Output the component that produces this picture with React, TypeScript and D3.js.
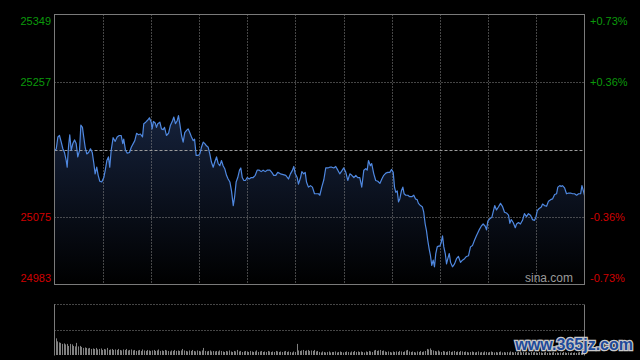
import React, { useRef, useEffect } from 'react';
import * as d3 from 'd3';

// intraday trace: [minutes since open, index level]
const priceTicks: [number, number][] = [
  [0, 25164], [1.1, 25167], [2.1, 25183], [3.1, 25185], [4.2, 25176], [5.2, 25167], [6.2, 25162], [7.3, 25151], [7.9, 25142], [8.7, 25169],
  [9.5, 25186], [10.4, 25165], [11.4, 25174], [12.5, 25179], [13.5, 25174], [14.5, 25156], [15.6, 25165], [16.4, 25199], [17.4, 25196], [18.2, 25183],
  [19.1, 25169], [20.1, 25160], [21.2, 25162], [22.4, 25167], [23.5, 25162], [24.5, 25147], [25.3, 25133], [26.3, 25142], [27.2, 25131], [28.2, 25123],
  [29.4, 25122], [30.7, 25128], [31.6, 25138], [32.6, 25151], [33.6, 25156], [34.4, 25142], [35.3, 25165], [36.5, 25182], [37.8, 25177], [39.0, 25183],
  [40.3, 25185], [41.5, 25185], [42.5, 25174], [43.1, 25180], [44.2, 25165], [45.3, 25161], [46.7, 25162], [47.8, 25169], [49.0, 25174], [50.0, 25178],
  [51.1, 25188], [52.3, 25186], [53.5, 25187], [54.8, 25183], [55.6, 25201], [56.8, 25203], [58.1, 25206], [59.1, 25209], [60.2, 25203], [60.8, 25194],
  [61.6, 25204], [62.7, 25202], [63.5, 25196], [64.3, 25201], [65.6, 25203], [66.6, 25194], [67.7, 25193], [68.5, 25196],
  [69.7, 25185], [71.0, 25188], [72.2, 25199], [73.5, 25205], [74.3, 25210], [75.3, 25201], [76.4, 25205], [77.2, 25212], [78.0, 25201], [79.1, 25185],
  [80.1, 25176], [81.1, 25189], [82.2, 25192], [83.2, 25194], [84.2, 25189], [85.3, 25183], [86.4, 25178], [87.2, 25180], [88.2, 25158], [89.5, 25158],
  [90.5, 25160], [91.5, 25169], [92.6, 25176], [93.6, 25174], [94.6, 25171], [95.7, 25169], [96.7, 25160], [97.7, 25149], [98.8, 25142], [99.8, 25149],
  [100.9, 25156], [101.9, 25147], [102.9, 25144], [104.0, 25151], [105.0, 25144], [106.0, 25140], [107.1, 25131], [108.1, 25126], [109.2, 25122], [110.2, 25110],
  [111.3, 25090], [112.1, 25101], [113.1, 25122], [114.1, 25128], [115.2, 25138], [116.0, 25141], [116.9, 25128], [117.9, 25124], [118.9, 25124], [120.0, 25128],
  [121.2, 25126], [122.5, 25128], [123.7, 25128], [125.0, 25131], [126.2, 25138], [127.5, 25138], [128.7, 25136], [129.9, 25138], [131.2, 25136], [132.4, 25138],
  [134.1, 25138], [135.3, 25135], [136.5, 25131], [137.8, 25131], [139.0, 25135], [140.7, 25133], [142.4, 25132], [144.0, 25131], [145.7, 25126], [146.9, 25133],
  [148.2, 25138], [149.0, 25143], [149.9, 25133], [151.1, 25128], [151.9, 25119], [153.2, 25128], [154.0, 25136], [155.2, 25133], [156.1, 25135], [156.9, 25122],
  [158.1, 25115], [159.4, 25117], [160.6, 25115], [161.9, 25106], [163.1, 25106], [164.4, 25106], [165.2, 25104], [166.4, 25115], [167.7, 25125], [168.9, 25141],
  [170.2, 25141], [171.4, 25142], [172.7, 25142], [173.9, 25141], [175.1, 25143], [176.4, 25138], [177.6, 25133], [178.9, 25137], [180.1, 25141], [181.4, 25135],
  [182.6, 25124], [183.9, 25133], [185.1, 25131], [186.4, 25128], [187.6, 25131], [188.8, 25128], [190.1, 25128], [191.3, 25115], [192.6, 25138], [193.8, 25140],
  [194.7, 25138], [195.5, 25151], [196.7, 25144], [197.5, 25147], [198.8, 25133], [200.0, 25124],
  [201.3, 25123], [202.6, 25120], [203.8, 25126], [205.0, 25131], [206.3, 25134], [207.5, 25135], [208.8, 25135], [209.8, 25139], [210.9, 25135], [211.7, 25115],
  [212.5, 25108], [213.4, 25110], [214.2, 25095], [215.0, 25099], [216.0, 25110], [216.9, 25115], [217.7, 25106], [218.7, 25104], [220.0, 25104], [221.2, 25102],
  [222.5, 25102], [223.7, 25104], [224.8, 25099], [225.8, 25098], [226.6, 25093], [227.9, 25090], [229.1, 25088], [229.9, 25081], [230.8, 25065], [231.6, 25056],
  [232.4, 25043], [233.3, 25031], [234.1, 25022], [234.9, 25009], [235.8, 25016], [236.6, 25007], [237.4, 25025], [238.3, 25034], [239.1, 25035], [239.9, 25035],
  [240.8, 25040], [241.6, 25049], [242.4, 25034], [243.3, 25025], [244.1, 25011], [244.9, 25018], [245.8, 25025], [246.6, 25013], [247.8, 25007], [249.1, 25011],
  [250.3, 25018], [251.5, 25021], [252.8, 25013], [254.0, 25016], [255.3, 25018], [256.5, 25021], [257.8, 25022], [259.0, 25034], [260.3, 25036], [261.5, 25043],
  [262.7, 25049], [264.4, 25057], [265.7, 25062], [266.9, 25065], [268.2, 25062], [269.0, 25057], [269.8, 25069], [271.0, 25072], [272.3, 25074], [273.1, 25081],
  [274.1, 25090], [275.2, 25084], [276.4, 25088], [277.7, 25093], [278.9, 25089], [280.2, 25081], [281.4, 25080], [282.7, 25077], [283.5, 25066], [284.4, 25071],
  [285.6, 25067], [286.9, 25060], [287.7, 25065], [288.9, 25067], [290.1, 25065], [291.4, 25070], [292.6, 25079], [293.9, 25075], [295.1, 25079], [296.4, 25077],
  [297.6, 25071], [298.9, 25070], [299.7, 25074], [300.6, 25083], [301.8, 25086], [303.1, 25088], [303.9, 25092], [305.1, 25090], [306.4, 25089], [307.6, 25096],
  [308.9, 25098], [310.1, 25099], [311.4, 25105], [312.6, 25106], [313.4, 25115], [314.6, 25117], [315.5, 25116], [316.3, 25117], [317.6, 25114], [318.8, 25106],
  [320.1, 25107], [321.3, 25107], [322.6, 25106], [323.8, 25106], [325.1, 25104], [326.3, 25106], [327.6, 25106], [328.4, 25117], [329.3, 25110], [330.0, 25104],
];

// per-minute volume, relative (opening auction = 100)
const volumes = [
  100, 33, 27, 25, 24, 22, 23, 21, 22, 18, 22, 21, 18, 17, 24, 17, 18, 16, 14, 15,
  14, 13, 14, 12, 13, 12, 14, 11, 12, 13, 10, 12, 11, 14, 10, 11, 12, 10, 11, 10,
  12, 10, 9, 11, 10, 12, 9, 10, 11, 9, 10, 8, 9, 10, 8, 11, 9, 8, 10, 9,
  8, 9, 10, 8, 9, 11, 8, 9, 8, 10, 9, 8, 7, 9, 8, 10, 8, 9, 8, 9,
  12, 9, 8, 7, 9, 8, 10, 8, 7, 9, 8, 7, 9, 14, 8, 7, 8, 9, 7, 8,
  7, 8, 7, 9, 8, 7, 6, 8, 7, 9, 7, 6, 8, 7, 10, 7, 8, 6, 7, 8,
  7, 6, 8, 7, 6, 7, 9, 6, 7, 8, 6, 7, 6, 8, 7, 6, 7, 6, 8, 7,
  6, 7, 6, 7, 8, 6, 7, 6, 5, 7, 6, 22, 9, 8, 9, 10, 8, 9, 10, 8,
  9, 8, 10, 7, 8, 6, 5, 7, 6, 5, 6, 7, 5, 6, 6, 7, 5, 6, 7, 6,
  5, 6, 7, 6, 5, 7, 6, 8, 6, 7, 6, 7, 6, 5, 7, 6, 8, 7, 6, 9,
  10, 8, 9, 10, 8, 9, 7, 6, 7, 6, 5, 7, 6, 7, 6, 8, 7, 6, 7, 9,
  10, 7, 6, 7, 6, 5, 7, 6, 8, 6, 7, 8, 12, 11, 13, 10, 9, 8, 7, 9,
  7, 6, 8, 7, 6, 7, 8, 6, 7, 8, 6, 7, 6, 8, 7, 6, 7, 6, 5, 6,
  7, 6, 5, 6, 7, 5, 6, 5, 7, 6, 5, 6, 7, 6, 5, 6, 5, 6, 7, 5,
  6, 5, 6, 5, 7, 6, 5, 6, 5, 6, 7, 5, 6, 5, 6, 5, 4, 6, 5, 6,
  5, 4, 6, 5, 4, 5, 6, 4, 5, 4, 5, 6, 4, 5, 4, 5, 4, 6, 5, 4,
  5, 4, 5, 4, 5, 4, 5, 6, 4, 5, 4,
];

const prevClose = 25166;
const priceLabels = [25349, 25257, 25075, 24983];
const pctLabels = ['+0.73%', '+0.36%', '-0.36%', '-0.73%'];
const halfHours = [30, 60, 90, 120, 150, 180, 210, 240, 270, 300];

const App = () => {
  const ref = useRef<SVGSVGElement>(null);

  useEffect(() => {
    const svg = d3.select(ref.current);
    svg.selectAll('*').remove();

    const left = 54.5, right = 584.5, top = 14.5, bottom = 284.5;
    const volTop = 304.5, volBottom = 355.5;
    const font = '"Liberation Sans", Arial, sans-serif';

    svg.append('rect').attr('width', 640).attr('height', 360).attr('fill', '#000');

    const x = d3.scaleLinear().domain([0, 330]).range([left, right]);
    const y = d3.scaleLinear().domain([24983, 25349]).range([bottom, top]);
    const yv = d3.scaleLinear().domain([0, 100]).range([volBottom - 0.5, volTop]);

    const defs = svg.append('defs');
    const grad = defs.append('linearGradient')
      .attr('id', 'areaFill')
      .attr('gradientUnits', 'userSpaceOnUse')
      .attr('x1', 0).attr('x2', 0)
      .attr('y1', y(d3.max(priceTicks, d => d[1]) as number))
      .attr('y2', bottom);
    grad.append('stop').attr('offset', '0%').attr('stop-color', '#15213a');
    grad.append('stop').attr('offset', '100%').attr('stop-color', '#000000');

    // area + line
    const area = d3.area<[number, number]>()
      .x(d => x(d[0]))
      .y0(bottom)
      .y1(d => y(d[1]));
    svg.append('path').datum(priceTicks).attr('d', area).attr('fill', 'url(#areaFill)');

    const grid = svg.append('g');
    halfHours.forEach(m => {
      const gx = Math.round(x(m)) + 0.5;
      grid.append('line').attr('x1', gx).attr('x2', gx).attr('y1', top).attr('y2', bottom)
        .attr('stroke', '#8a8a8a').attr('stroke-dasharray', '1,2');
      grid.append('line').attr('x1', gx).attr('x2', gx).attr('y1', volTop).attr('y2', volTop)
        .attr('stroke', 'none');
    });
    [25257, 25075].forEach(v => {
      const gy = Math.round(y(v)) + 0.5;
      grid.append('line').attr('x1', left).attr('x2', right).attr('y1', gy).attr('y2', gy)
        .attr('stroke', '#8a8a8a').attr('stroke-dasharray', '1,2');
    });
    const pc = Math.round(y(prevClose)) + 0.5;
    grid.append('line').attr('x1', left).attr('x2', right).attr('y1', pc).attr('y2', pc)
      .attr('stroke', '#9a9a9a').attr('stroke-dasharray', '3,2');

    const line = d3.line<[number, number]>()
      .x(d => x(d[0]))
      .y(d => y(d[1]));
    svg.append('path').datum(priceTicks).attr('d', line)
      .attr('fill', 'none').attr('stroke', '#4f88e0').attr('stroke-width', 1.2)
      .attr('stroke-linejoin', 'round');

    svg.append('rect')
      .attr('x', left).attr('y', top).attr('width', right - left).attr('height', bottom - top)
      .attr('fill', 'none').attr('stroke', '#7a7a7a');

    // axis labels
    priceLabels.forEach((v, i) => {
      const ty = i === 0 ? top + 10 : i === priceLabels.length - 1 ? bottom - 3 : y(v) + 4;
      const color = v > prevClose ? '#0b9a0b' : '#d00000';
      svg.append('text').attr('x', 51).attr('y', ty).attr('text-anchor', 'end')
        .attr('fill', color).style('font-family', font).style('font-size', '11px').text(v);
      svg.append('text').attr('x', 590).attr('y', ty).attr('text-anchor', 'start')
        .attr('fill', color).style('font-family', font).style('font-size', '11px').text(pctLabels[i]);
    });

    svg.append('text').attr('x', 573).attr('y', 282).attr('text-anchor', 'end')
      .attr('fill', '#9a9a9a').style('font-family', font).style('font-size', '12px').text('sina.com');

    // volume panel
    [volTop, Math.round((volTop + volBottom) / 2) + 0.5].forEach(gy => {
      svg.append('line').attr('x1', left).attr('x2', right).attr('y1', gy).attr('y2', gy)
        .attr('stroke', '#8a8a8a').attr('stroke-dasharray', '1,2');
    });
    svg.selectAll('.vol')
      .data(volumes)
      .enter()
      .append('rect')
      .attr('class', 'vol')
      .attr('x', (_, i) => Math.floor(x(i)))
      .attr('width', 1)
      .attr('y', d => yv(d))
      .attr('height', d => volBottom - 0.5 - yv(d))
      .attr('fill', '#808080');
    [left, right].forEach(bx => {
      svg.append('line').attr('x1', bx).attr('x2', bx).attr('y1', volTop).attr('y2', volBottom)
        .attr('stroke', '#7a7a7a');
    });

    svg.append('text').attr('x', 633).attr('y', 350).attr('text-anchor', 'end')
      .attr('fill', '#1e4a9a').attr('stroke', '#c8c8c8').attr('stroke-width', 2.5)
      .style('paint-order', 'stroke').style('font-family', font)
      .style('font-size', '16px').style('font-weight', 'bold').text('www.365jz.com');
  }, []);

  return (
    <svg ref={ref} width={640} height={360}
      style={{ position: 'fixed', left: 0, top: 0, display: 'block' }} />
  );
};

export default App;
